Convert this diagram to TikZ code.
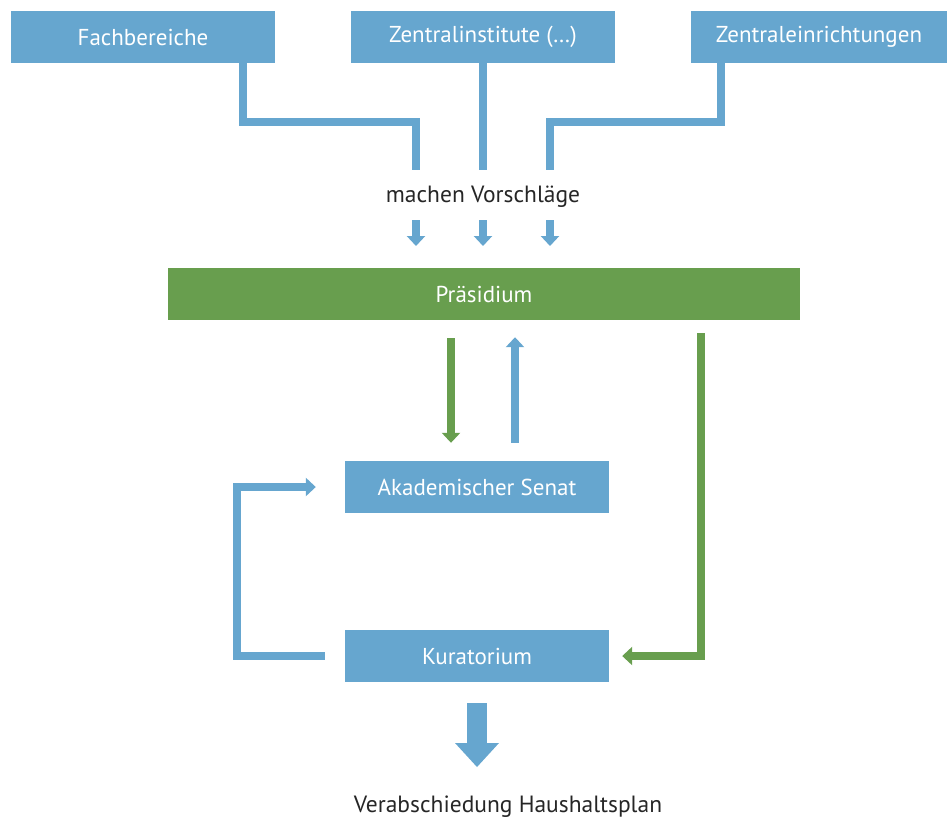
\documentclass[tikz,border=0pt]{standalone}
\usepackage{fontspec}
\setmainfont{PT Sans}
\usetikzlibrary{arrows.meta,positioning}
\definecolor{uniblue}{RGB}{102,166,207}
\definecolor{unigreen}{RGB}{104,158,78}
\begin{document}
\begin{tikzpicture}
	[   x=1pt,y=-1pt,
	    box/.style={fill=#1,text=white,minimum width=264pt,minimum height=52pt,inner sep=0pt,font=\fontsize{23}{27}\selectfont},
	    label text/.style={text=black!85,font=\fontsize{23.5}{27}\selectfont},
	]
	\tikzset{flow/.style={draw=#1,line width=8pt,-{Triangle[width=18pt,length=10pt]}},
	         feed/.style={draw=uniblue,line width=8pt}}
	\useasboundingbox (0,0) rectangle (949,823);
	
	\node[box=uniblue] (fach) at (143,37) {Fachbereiche};
	\node[box=uniblue] (zinst) at (483,37) {Zentralinstitute (\dots)};
	\node[box=uniblue,minimum width=256pt] (zein) at (819,37) {Zentraleinrichtungen};
	\node[label text] (vor) at (483,197) {machen Vorschläge};
	\node[box=unigreen,minimum width=632pt] (praes) at (484,294) {Präsidium};
	\node[box=uniblue] (senat) at (477,487) {Akademischer Senat};
	\node[box=uniblue] (kura) at (477,656) {Kuratorium};
	\node[label text] (plan) at (508,807) {Verabschiedung Haushaltsplan};
	
	\coordinate (in-1) at (416,170);
	\coordinate (in-2) at (483,170);
	\coordinate (in-3) at (550,170);
	\draw[feed] (fach.south -| 243,0) |- (416,122) -- (in-1);
	\draw[feed] (zinst.south) -- (in-2);
	\draw[feed] (zein.south -| 721,0) |- (550,122) -- (in-3);
	
	\foreach \x in {1,2,3}
	{
		\coordinate (out-\x) at ([yshift=-50pt]in-\x);
		\draw[flow=uniblue] (out-\x) -- ([yshift=-26pt]out-\x);
	}
	
	\draw[flow=unigreen] ([xshift=-33pt,yshift=-18pt]praes.south) -- ([xshift=-26pt,yshift=18pt]senat.north);
	\draw[flow=uniblue] ([xshift=38pt,yshift=18pt]senat.north) -- ([xshift=31pt,yshift=-17pt]praes.south);
	\draw[flow=unigreen] ([yshift=-13pt]praes.south -| 701,0) |- ([xshift=13pt]kura.east);
	\draw[flow=uniblue] ([xshift=-20pt]kura.west) -| (237,487) -- ([xshift=-29pt]senat.west);
	
	\draw[uniblue,line width=20pt] ([yshift=-21pt]kura.south) -- (477,744);
	\fill[uniblue] (455,743) -- (499,743) -- (477,767) -- cycle;
\end{tikzpicture}
\end{document}
